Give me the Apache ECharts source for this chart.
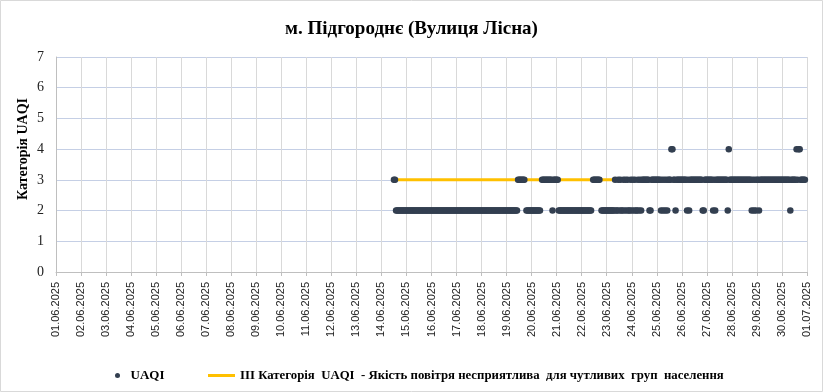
<!DOCTYPE html>
<html>
<head>
<meta charset="utf-8">
<script src="https://cdn.jsdelivr.net/npm/echarts@6/dist/echarts.min.js"></script>
<style>
html,body{margin:0;padding:0;background:#fff;}
#chart{width:823px;height:392px;}
</style>
</head>
<body>
<div id="chart"></div>
<script>
// Tick labels (one per day, 01.06.2025 .. 01.07.2025)
const dayLabels = ['01.06.2025','02.06.2025','03.06.2025','04.06.2025','05.06.2025','06.06.2025','07.06.2025','08.06.2025','09.06.2025','10.06.2025','11.06.2025','12.06.2025','13.06.2025','14.06.2025','15.06.2025','16.06.2025','17.06.2025','18.06.2025','19.06.2025','20.06.2025','21.06.2025','22.06.2025','23.06.2025','24.06.2025','25.06.2025','26.06.2025','27.06.2025','28.06.2025','29.06.2025','30.06.2025','01.07.2025'];

// Hourly UAQI category, one character per hour (00..23), '.' = no data
const uaqiDates = ['14.06.2025','15.06.2025','16.06.2025','17.06.2025','18.06.2025','19.06.2025','20.06.2025','21.06.2025','22.06.2025','23.06.2025','24.06.2025','25.06.2025','26.06.2025','27.06.2025','28.06.2025','29.06.2025','30.06.2025'];
const uaqiHourly = [
  '............332222222222',
  '222222222222222222222222',
  '222222222222222222222222',
  '222222222222222222222222',
  '222222222222222222222222',
  '222222222223333333.22222',
  '222222222.33333333332333',
  '332222222222222222222222',
  '2222222222.3333333.22222',
  '222222223223232232323223',
  '232322323233333332233333',
  '333323232323334433233333',
  '333332323333333333332233',
  '333333232333333333332433',
  '333333333333333333323232',
  '332333333333333333333333',
  '33333333233333434433333.'
];

// Threshold line: category III from first to last reading
const thresholdName = 'III Категорія  UAQI  - Якість повітря несприятлива  для чутливих  груп  населення';
const thresholdValue = 3;
const thresholdStart = ['14.06.2025', 12];
const thresholdEnd = ['30.06.2025', 22];

const titleText = 'м. Підгороднє (Вулиця Лісна)';
const yAxisTitle = 'Категорія UAQI';

const uaqiData = [];
uaqiDates.forEach((d, i) => {
  const dayIdx = dayLabels.indexOf(d);
  const s = uaqiHourly[i];
  for (let h = 0; h < s.length; h++) {
    const c = s[h];
    if (c !== '.') uaqiData.push([dayIdx + h / 24, Number(c)]);
  }
});
const thresholdData = [
  [dayLabels.indexOf(thresholdStart[0]) + thresholdStart[1] / 24, thresholdValue],
  [dayLabels.indexOf(thresholdEnd[0]) + thresholdEnd[1] / 24, thresholdValue]
];

const chart = echarts.init(document.getElementById('chart'), null, {renderer: 'canvas'});
const serif = '"Liberation Serif", "Times New Roman", serif';
chart.setOption({
  animation: false,
  backgroundColor: '#fff',
  title: {
    text: titleText,
    left: 'center',
    top: 15,
    textStyle: {fontFamily: serif, fontSize: 19, fontWeight: 'bold', color: '#000'}
  },
  graphic: [
    {type: 'rect', shape: {x: 0.5, y: 0.5, width: 822, height: 391}, style: {fill: 'none', stroke: '#d9d9d9', lineWidth: 1}, silent: true},
    {type: 'text', x: 23.5, y: 149, rotation: Math.PI / 2,
      style: {text: yAxisTitle, fontFamily: serif, fontSize: 14, fontWeight: 'bold', fill: '#000', textAlign: 'center', textVerticalAlign: 'middle'}}
  ],
  legend: [
    {data: [{name: 'UAQI', icon: 'circle'}], left: 110, top: 364, itemWidth: 16, itemHeight: 5, itemGap: 0,
      textStyle: {fontFamily: serif, fontSize: 13, fontWeight: 'bold', color: '#000'}},
    {data: [{name: thresholdName, icon: 'rect'}], left: 203, top: 364, itemWidth: 27, itemHeight: 3,
      textStyle: {fontFamily: serif, fontSize: 12.8, fontWeight: 'bold', color: '#000'}}
  ],
  grid: {left: 56, right: 16, top: 57, bottom: 120, containLabel: false},
  xAxis: {
    type: 'value', min: 0, max: 30, interval: 1,
    axisLine: {show: true, lineStyle: {color: '#bfbfbf'}},
    axisTick: {show: true, length: 4, lineStyle: {color: '#bfbfbf'}},
    splitLine: {show: true, lineStyle: {color: '#d9d9d9', width: 1}},
    axisLabel: {
      rotate: 90, margin: 10, fontFamily: '"Liberation Sans", Arial, sans-serif', fontSize: 11, color: '#222',
      formatter: v => dayLabels[Math.round(v)] || ''
    }
  },
  yAxis: {
    type: 'value', min: 0, max: 7, interval: 1,
    axisLine: {show: true, lineStyle: {color: '#bfbfbf'}},
    axisTick: {show: false},
    splitLine: {show: true, lineStyle: {color: '#c5cfe5', width: 1}},
    axisLabel: {fontFamily: serif, fontSize: 14, color: '#222', margin: 12}
  },
  series: [
    {
      name: thresholdName, type: 'line', data: thresholdData, symbol: 'none', z: 2,
      lineStyle: {color: '#ffc000', width: 3}, itemStyle: {color: '#ffc000'}
    },
    {
      name: 'UAQI', type: 'scatter', data: uaqiData, symbol: 'circle', symbolSize: 6.5, z: 3,
      itemStyle: {color: '#333f50', opacity: 1}
    }
  ]
});
</script>
</body>
</html>
